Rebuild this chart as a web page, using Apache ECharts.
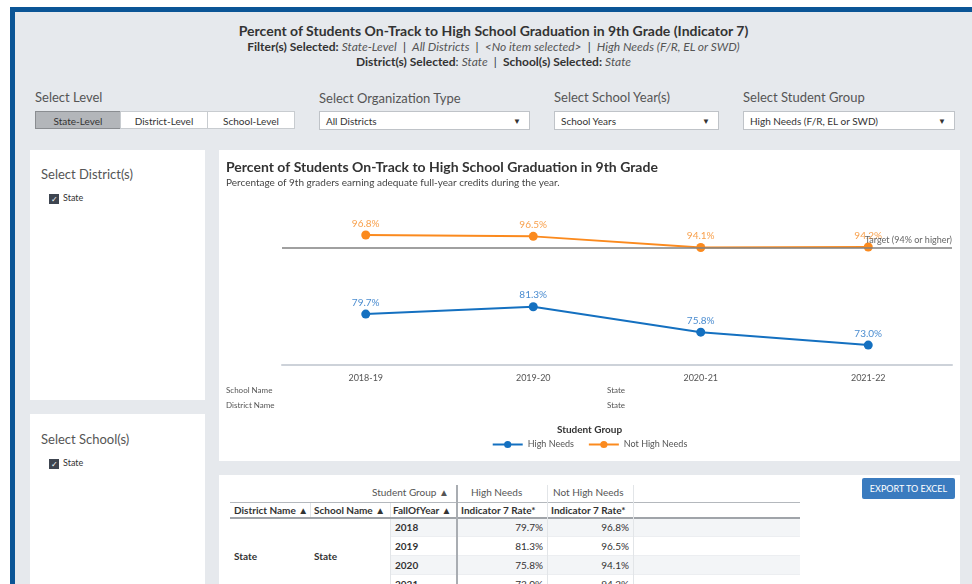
<!DOCTYPE html>
<html><head><meta charset="utf-8">
<script src="https://cdn.jsdelivr.net/npm/echarts@6/dist/echarts.min.js"></script>
<style>
html,body{margin:0;padding:0;width:972px;height:584px;overflow:hidden;background:#fff;font-family:Lato,"Open Sans",sans-serif;}
.abs{position:absolute;}
#frame{position:absolute;left:10px;top:7px;width:980px;height:600px;background:#e6e9ed;border-left:5px solid #0b5596;border-top:5px solid #0b5596;}
.hdr{position:absolute;left:15px;width:957px;text-align:center;color:#333;white-space:nowrap;}
.lbl{position:absolute;font-size:13px;color:#555;white-space:nowrap;}
.btn{position:absolute;top:111px;height:18px;line-height:18px;font-size:10px;color:#333;text-align:center;background:#fff;border:1px solid #c8ccd0;box-sizing:border-box;}
.dd{position:absolute;top:111px;height:19px;line-height:19px;font-size:10px;color:#333;background:#fff;border:1px solid #bfc3c8;box-sizing:border-box;padding-left:6px;}
.dd span{position:absolute;right:8px;top:0;font-size:8px;}
.panel{position:absolute;background:#fff;}
.cb{position:absolute;width:10px;height:10px;background:#3e4550;color:#fff;font-size:8px;line-height:10px;text-align:center;}
.cbt{position:absolute;font-size:9px;color:#333;}
.t{position:absolute;font-size:10px;color:#333;white-space:nowrap;line-height:16px;}
</style></head>
<body>
<div id="frame"></div>
<div class="hdr" style="top:22px;font-size:14px;font-weight:bold;">Percent of Students On-Track to High School Graduation in 9th Grade (Indicator 7)</div>
<div class="hdr" style="top:39px;font-size:12px;"><b>Filter(s) Selected:</b> <i style="color:#555">State-Level</i> &nbsp;|&nbsp; <i style="color:#555">All Districts</i> &nbsp;|&nbsp; <i style="color:#555">&lt;No item selected&gt;</i> &nbsp;|&nbsp; <i style="color:#555">High Needs (F/R, EL or SWD)</i></div>
<div class="hdr" style="top:54px;font-size:12px;"><b>District(s) Selected</b>: <i style="color:#555">State</i> &nbsp;|&nbsp; <b>School(s) Selected:</b> <i style="color:#555">State</i></div>

<div class="lbl" style="left:35px;top:89px;">Select Level</div>
<div class="btn" style="left:35px;width:86px;background:#b3b6ba;border-color:#8a8d91;">State-Level</div>
<div class="btn" style="left:120px;width:88px;">District-Level</div>
<div class="btn" style="left:207px;width:88px;">School-Level</div>

<div class="lbl" style="left:319px;top:90px;">Select Organization Type</div>
<div class="dd" style="left:319px;width:211px;">All Districts<span>▼</span></div>
<div class="lbl" style="left:554px;top:89px;">Select School Year(s)</div>
<div class="dd" style="left:554px;width:165px;">School Years<span>▼</span></div>
<div class="lbl" style="left:743px;top:89px;">Select Student Group</div>
<div class="dd" style="left:743px;width:212px;">High Needs (F/R, EL or SWD)<span>▼</span></div>

<div class="panel" style="left:30px;top:150px;width:175px;height:250px;"></div>
<div class="lbl" style="left:41px;top:166px;">Select District(s)</div>
<div class="cb" style="left:49px;top:194px;">✓</div><div class="cbt" style="left:63px;top:192px;">State</div>

<div class="panel" style="left:30px;top:414px;width:175px;height:180px;"></div>
<div class="lbl" style="left:41px;top:431px;">Select School(s)</div>
<div class="cb" style="left:49px;top:459px;">✓</div><div class="cbt" style="left:63px;top:457px;">State</div>

<div class="panel" id="chart" style="left:219px;top:150px;width:741px;height:311px;"></div>

<div class="panel" id="tbl" style="left:219px;top:475px;width:741px;height:120px;overflow:hidden;"></div>

<script>
// ---- data ----
var schoolYears = ['2018-19', '2019-20', '2020-21', '2021-22'];
var fallOfYear = ['2018', '2019', '2020', '2021'];
var highNeeds = [79.7, 81.3, 75.8, 73.0];
var notHighNeeds = [96.8, 96.5, 94.1, 94.2];
var targetValue = 94;
var seriesNames = ['High Needs', 'Not High Needs'];

// ---- table (built from the arrays) ----
(function(){
  var tb = document.getElementById('tbl');
  var h = '';
  function add(x, y, w, ht, style, txt){ h += '<div class="abs" style="left:'+x+'px;top:'+y+'px;width:'+w+'px;height:'+ht+'px;'+style+'">'+(txt||'')+'</div>'; }
  function txt(x, y, s, style){ h += '<div class="t" style="left:'+x+'px;top:'+(y-8)+'px;'+(style||'')+'">'+s+'</div>'; }
  for (var i=0;i<fallOfYear.length;i++){
    var top = 43 + i*19;
    if (i%2===0) add(171, top, 410, 19, 'background:#f3f5f7;');
    add(171, top+18, 410, 1, 'background:#eceef1;');
  }
  add(11, 27, 570, 1, 'background:#b4b8bd;');
  add(11, 42, 570, 2, 'background:#a0a4a9;');
  add(237, 10, 2, 120, 'background:#a9adb2;');
  add(171, 44, 1, 100, 'background:#e2e5e8;');
  add(328, 10, 1, 120, 'background:#e2e5e8;');
  add(414, 10, 1, 120, 'background:#e2e5e8;');
  add(91, 28, 1, 14, 'background:#e2e5e8;');
  add(171, 28, 1, 14, 'background:#e2e5e8;');
  txt(153, 17, 'Student Group ▲', 'color:#555;font-size:10px;');
  txt(252, 17, seriesNames[0], 'color:#555;');
  txt(334, 17, seriesNames[1], 'color:#555;');
  txt(15, 35, 'District Name ▲', 'font-weight:bold;');
  txt(95, 35, 'School Name ▲', 'font-weight:bold;');
  txt(174, 35, 'FallOfYear ▲', 'font-weight:bold;');
  txt(242, 35, 'Indicator 7 Rate*', 'font-weight:bold;');
  txt(332, 35, 'Indicator 7 Rate*', 'font-weight:bold;');
  for (var j=0;j<fallOfYear.length;j++){
    var cy = 52 + j*19;
    txt(176, cy, fallOfYear[j], 'font-weight:bold;');
    h += '<div class="t" style="left:240px;width:84px;text-align:right;top:'+(cy-8)+'px;">'+highNeeds[j].toFixed(1)+'%</div>';
    h += '<div class="t" style="left:330px;width:80px;text-align:right;top:'+(cy-8)+'px;">'+notHighNeeds[j].toFixed(1)+'%</div>';
  }
  txt(15, 81, 'State', 'font-weight:bold;');
  txt(95, 81, 'State', 'font-weight:bold;');
  add(643, 3, 93, 21, 'background:#3a7bbf;border-radius:2px;color:#fff;font-size:9px;line-height:21px;text-align:center;', 'EXPORT TO EXCEL');
  tb.innerHTML = h;
})();

// ---- chart ----
var chart = echarts.init(document.getElementById('chart'), null, {renderer:'canvas'});
var font = 'Lato, "Open Sans", sans-serif';
chart.setOption({
  animation: false,
  textStyle: {fontFamily: font},
  title: {
    text: 'Percent of Students On-Track to High School Graduation in 9th Grade',
    subtext: 'Percentage of 9th graders earning adequate full-year credits during the year.',
    left: 2, top: 5, itemGap: 4,
    textStyle: {fontSize: 14, fontWeight: 'bold', color: '#333', fontFamily: font},
    subtextStyle: {fontSize: 10, color: '#444', fontFamily: font}
  },
  grid: {left: 63, right: 8, top: 60, bottom: 96},
  xAxis: {
    type: 'category', data: schoolYears, boundaryGap: true,
    axisLine: {lineStyle: {color: '#cdd2d9', width: 2}},
    axisTick: {alignWithLabel: true, length: 4, lineStyle: {color: '#cdd2d9'}},
    axisLabel: {color: '#555', fontSize: 9, margin: 9, fontFamily: font}
  },
  yAxis: {type: 'value', min: 68.7, max: 102.2, show: false},
  legend: {
    data: seriesNames, top: 285, left: 'center', itemWidth: 30, itemHeight: 9, itemGap: 14,
    textStyle: {fontSize: 9, color: '#555', fontFamily: font}
  },
  graphic: [
    {type: 'text', left: 7, top: 236, style: {text: 'School Name', fontSize: 8, fill: '#555', fontFamily: font}},
    {type: 'text', left: 7, top: 251, style: {text: 'District Name', fontSize: 8, fill: '#555', fontFamily: font}},
    {type: 'text', left: 388, top: 236, style: {text: 'State', fontSize: 8, fill: '#555', fontFamily: font}},
    {type: 'text', left: 388, top: 251, style: {text: 'State', fontSize: 8, fill: '#555', fontFamily: font}},
    {type: 'text', left: 'center', top: 275, style: {text: 'Student Group', fontSize: 10, fontWeight: 'bold', fill: '#333', fontFamily: font}}
  ],
  series: [
    {
      name: seriesNames[0], type: 'line', data: highNeeds,
      symbol: 'circle', symbolSize: 9, color: '#1470c0',
      lineStyle: {width: 2, color: '#1470c0'},
      label: {show: true, position: 'top', distance: 2, fontSize: 10, color: '#4a8cd0',
        formatter: function(p){ return p.value.toFixed(1) + '%'; }}
    },
    {
      name: seriesNames[1], type: 'line', data: notHighNeeds,
      symbol: 'circle', symbolSize: 9, color: '#fb8a1e',
      lineStyle: {width: 2, color: '#fb8a1e'},
      label: {show: true, position: 'top', distance: 2, fontSize: 10, color: '#f8a04c',
        formatter: function(p){ return p.value.toFixed(1) + '%'; }},
      markLine: {
        silent: true, symbol: ['none', 'none'],
        lineStyle: {color: '#808080', width: 1.5, type: 'solid'},
        label: {show: true, position: 'insideEndTop', formatter: 'Target (94% or higher)', fontSize: 9, color: '#666', distance: [0, 3]},
        data: [{yAxis: targetValue}]
      }
    }
  ]
});
</script>
</body></html>
